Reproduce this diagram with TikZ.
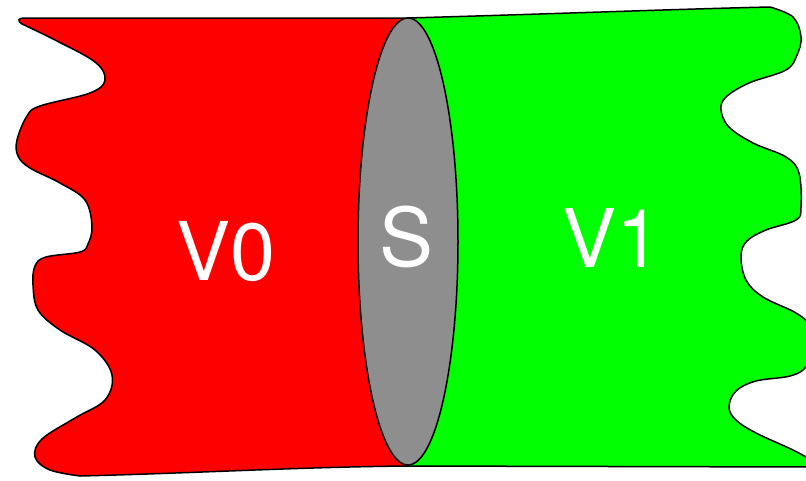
\documentclass[tikz,border=0pt]{standalone}
\usepackage{fontspec}
\setmainfont{TeX Gyre Heros}
\definecolor{redfill}{RGB}{255,0,0}
\definecolor{greenfill}{RGB}{0,255,0}
\definecolor{grayfill}{RGB}{142,142,142}
\begin{document}
\begin{tikzpicture}[x=1pt,y=-1pt,
  region/.style={draw=black,line width=1.5pt,line join=round},
  lbl/.style={text=white,anchor=base,inner sep=0pt,font=\fontsize{81}{81}\selectfont}]
\useasboundingbox (0,0) rectangle (806,480);
\clip (0,0) rectangle (806,480);
% red volume V0
\path[region,fill=redfill] (408,18) -- (24,18)
  .. controls (18,18) and (17,21) .. (22,24)
  -- plot[smooth,tension=0.6] coordinates {(22,24) (55,40) (95,62) (105,80) (90,93) (40,106) (27,116) (17,140) (18,156) (30,168) (60,183) (85,200) (92,226) (88,244) (80,252) (46,257) (35,266) (33,285) (38,310) (60,330) (95,350) (112,375) (105,400) (75,418) (42,439) (35,457) (50,470) (80,476)}
  .. controls (200,473) and (300,467) .. (408,466) -- cycle;
% green volume V1
\path[region,fill=greenfill] (408,18) .. controls (550,14) and (680,9) .. (770,7)
  -- plot[smooth,tension=0.6] coordinates {(770,7) (793,17) (801,37) (797,55) (786,70) (749,83) (726,97) (721,110) (729,127) (753,143) (786,157) (799,173) (801,207) (796,220) (766,230) (747,241) (741,256) (746,280) (763,297) (796,313) (811,327) (813,348) (806,367) (790,376) (756,381) (736,391) (729,407) (736,420) (756,433) (793,450) (815,462)}
  -- (815,467) -- (408,466) -- cycle;
% separating surface S
\draw[line width=1.5pt,fill=grayfill] (408,241.5) ellipse [x radius=50pt, y radius=223.5pt];
\node[lbl] (v0) at (226,280) {V0};
\node[lbl] (s) at (407,266) {S};
\node[lbl] (v1) at (612,267) {V1};
\end{tikzpicture}
\end{document}
